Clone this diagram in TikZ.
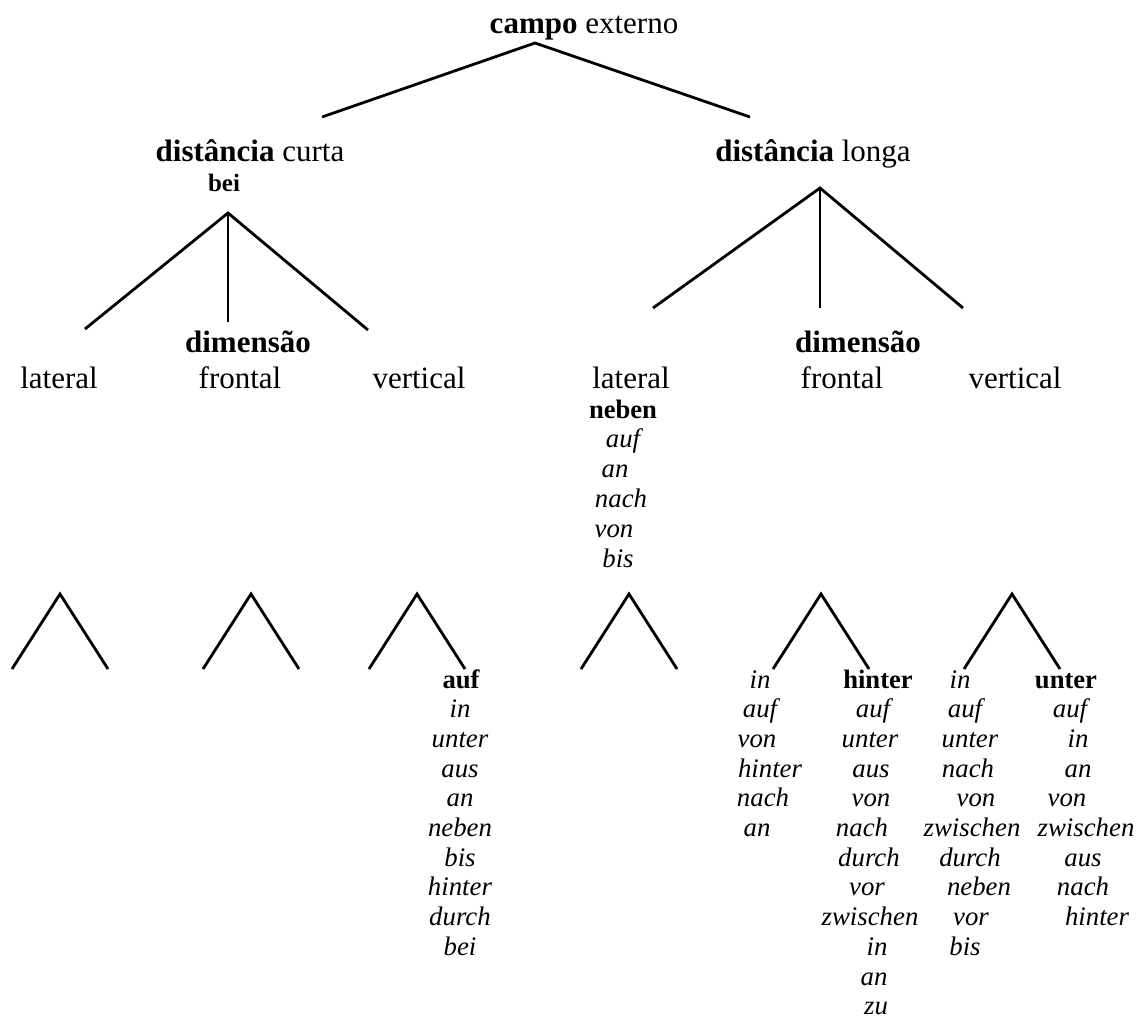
\documentclass[tikz,border=0pt]{standalone}
\usepackage{fontspec}
\setmainfont{Liberation Serif}

\begin{document}
\begin{tikzpicture}[x=0.5pt,y=-0.5pt,line width=1.4pt,
    every node/.style={inner sep=0pt,anchor=base},
    lbl/.style={font=\fontsize{15.5}{18}\selectfont},
    head/.style={font=\fontsize{13.3}{16}\selectfont\bfseries},
    prep/.style={font=\fontsize{13.4}{16}\selectfont\itshape}]
  \useasboundingbox (0,0) rectangle (1139,1022);

  % upper levels
  \node[lbl] (campo) at (584,34) {\textbf{campo} externo};
  \node[lbl] (curta) at (250,162) {\textbf{distância} curta};
  \node[lbl] (longa) at (813,162) {\textbf{distância} longa};
  \node[head,font=\fontsize{12.5}{15}\selectfont\bfseries] (bei) at (224,191) {bei};
  \node[lbl,font=\fontsize{15.5}{18}\selectfont\bfseries] (dimC) at (248,352) {dimensão};
  \node[lbl,font=\fontsize{15.5}{18}\selectfont\bfseries] (dimL) at (858,352) {dimensão};
  \foreach \w/\x [count=\i] in {lateral/59, frontal/240, vertical/419,
      lateral/631, frontal/842, vertical/1015}
    \node[lbl] (dim\i) at (\x,388) {\w};

  \coordinate (T) at (535,43);
  \coordinate (Tl) at (322,117); \coordinate (Tr) at (750,117);
  \draw (Tl)--(T)--(Tr);

  \coordinate (C) at (228,213);
  \coordinate (Cl) at (85,329); \coordinate (Cm) at (228,322); \coordinate (Cr) at (368,330);
  \draw (Cl)--(C)--(Cr); \draw (C)--(Cm);

  \coordinate (L) at (820,188);
  \coordinate (Ll) at (653,308); \coordinate (Lm) at (820,308); \coordinate (Lr) at (963,308);
  \draw (Ll)--(L)--(Lr); \draw (L)--(Lm);

  % small branchings
  \foreach \x [count=\i] in {60,251,417,629,821,1012} {
    \coordinate (t\i) at (\x,594);
    \coordinate (t\i l) at (\x-48,669); \coordinate (t\i r) at (\x+48,669);
    \draw (t\i l)--(t\i)--(t\i r);
  }

  % lateral, long distance
  \node[head] (lat0) at (623,418) {neben};
  \foreach \w/\x [count=\k] in {auf/623, an/615, nach/621, von/614, bis/618}
    \node[prep] (lat\k) at (\x,418+29.8*\k) {\w};

  % vertical, short distance
  \node[head] (ver0) at (461,688) {auf};
  \foreach \w [count=\k] in {in, unter, aus, an, neben, bis, hinter, durch, bei}
    \node[prep] (ver\k) at (460,688+29.7*\k) {\w};

  % frontal, long distance
  \foreach \w/\x [count=\k from 0] in {in/760, auf/760, von/757, hinter/770, nach/763, an/757}
    \node[prep] (fa\k) at (\x,688+29.7*\k) {\w};
  \node[head] (fb0) at (878,688) {hinter};
  \foreach \w/\x [count=\k] in {auf/873, unter/870, aus/871, von/871, nach/862, durch/869,
      vor/867, zwischen/870, in/877, an/874, zu/876}
    \node[prep] (fb\k) at (\x,688+29.7*\k) {\w};

  % vertical, long distance
  \foreach \w/\x [count=\k from 0] in {in/960, auf/965, unter/970, nach/968, von/976,
      zwischen/972, durch/970, neben/979, vor/971, bis/965}
    \node[prep] (va\k) at (\x,688+29.7*\k) {\w};
  \node[head] (vb0) at (1066,688) {unter};
  \foreach \w/\x [count=\k] in {auf/1070, in/1078, an/1078, von/1067, zwischen/1086,
      aus/1083, nach/1083, hinter/1097}
    \node[prep] (vb\k) at (\x,688+29.7*\k) {\w};
\end{tikzpicture}
\end{document}
